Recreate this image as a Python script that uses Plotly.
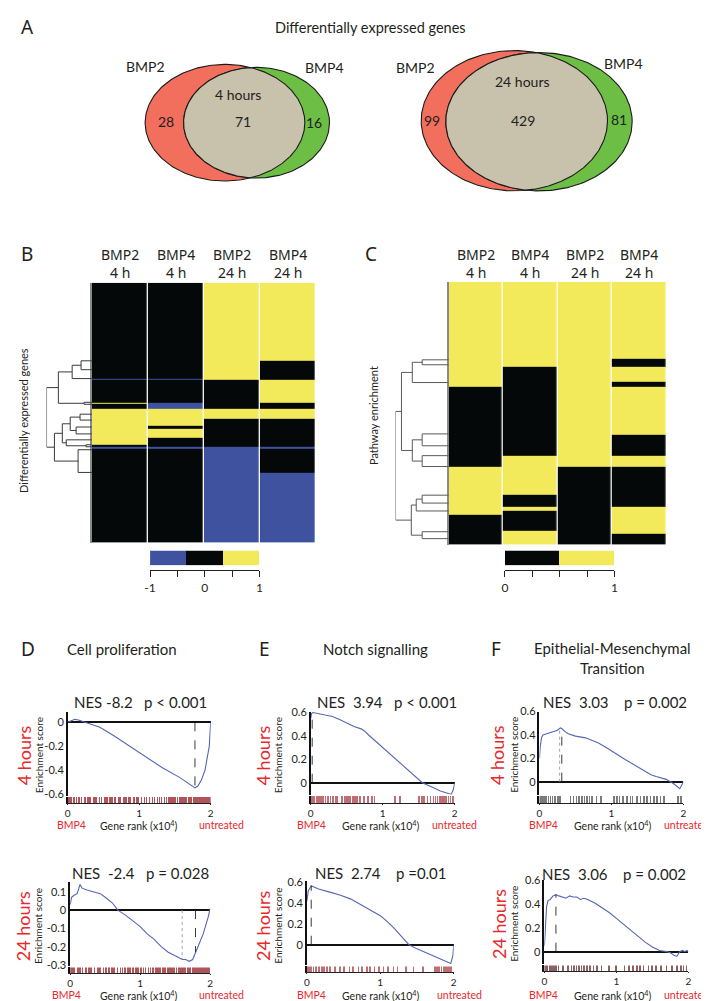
import numpy as np
import plotly.graph_objects as go

W, H = 709, 1001
def px(x): return x / W
def py(y): return 1 - y / H

# ---------------- DATA ----------------
venn_sets = ["BMP2", "BMP4"]
venn_4h = [28, 71, 16]          # BMP2 only, both, BMP4 only
venn_24h = [99, 429, 81]

heat_cols = ["BMP2<br>4 h", "BMP4<br>4 h", "BMP2<br>24 h", "BMP4<br>24 h"]

# Panel B: gene blocks (block sizes) and values per column (-1 down, 0 none, 1 up)
deg_block_sizes = [79, 18, 1, 23, 1, 6, 10, 7, 3, 9, 7, 2, 2, 24, 71]
deg_values = [[0, 0, 1, 1], [0, 0, 1, 0], [-1, -1, 1, 0], [0, 0, 0, 1], [1, -1, 0, 0],
              [0, -1, 0, 0], [1, 1, 1, 1], [1, 1, 0, 0], [1, 0, 0, 0], [1, 1, 0, 0],
              [1, 0, 0, 0], [0, 0, 0, 0], [-1, -1, -1, -1], [0, 0, -1, 0], [0, 0, -1, -1]]
deg_leaves = [79, 88, 97, 121, 123, 133, 139, 146, 153, 159, 164, 166, 169, 192]
deg_merges = [(0, 1, 11), (14, 2, 20), (3, 4, 8), (15, 16, 34), (5, 6, 12), (7, 8, 16),
              (18, 19, 22), (10, 11, 6), (9, 21, 26), (20, 22, 30), (12, 13, 14),
              (23, 24, 38), (17, 25, 46)]

# Panel C: pathway blocks
path_block_sizes = [78, 8, 15, 5, 49, 21, 11, 29, 12, 4, 4, 16, 3, 11]
path_values = [[1, 1, 1, 1], [1, 1, 1, 0], [1, 0, 1, 1], [1, 0, 1, 0], [0, 0, 1, 1],
               [0, 0, 1, 0], [0, 1, 1, 1], [1, 1, 0, 0], [1, 0, 0, 0], [1, 1, 0, 1],
               [1, 0, 0, 1], [0, 0, 0, 1], [0, 1, 0, 1], [0, 1, 0, 0]]
path_leaves = [79, 84, 102, 154, 166, 176, 187, 216, 224, 232, 253, 260]
path_merges = [(0, 1, 27), (12, 2, 37), (3, 4, 27), (5, 6, 27), (14, 15, 37), (13, 16, 48),
               (7, 8, 27), (18, 9, 33), (10, 11, 27), (19, 20, 38), (17, 21, 54)]

# GSEA running enrichment scores (rank in x10^4)
d4_rank = [0, 0.05, 0.1, 0.15, 0.22, 0.31, 0.45, 0.64, 0.87, 1.10, 1.33, 1.57, 1.71, 1.75, 1.78, 1.82, 1.87, 1.92, 1.95, 1.98, 1.99, 2.0]
d4_es = [0, 0.01, 0.025, 0.02, 0.005, -0.01, -0.04, -0.11, -0.2, -0.29, -0.38, -0.46, -0.52, -0.535, -0.545, -0.53, -0.48, -0.40, -0.30, -0.2, -0.1, 0]
d24_rank = [0, 0.02, 0.05, 0.1, 0.14, 0.17, 0.24, 0.33, 0.43, 0.5, 0.6, 0.68, 0.8, 0.9, 1.0, 1.1, 1.2, 1.3, 1.4, 1.5, 1.6, 1.65, 1.7, 1.75, 1.79, 1.85, 1.9, 1.97, 2.0]
d24_es = [0.03, 0.07, 0.08, 0.09, 0.14, 0.12, 0.11, 0.10, 0.09, 0.07, 0.04, 0.0, -0.03, -0.06, -0.09, -0.13, -0.16, -0.2, -0.23, -0.25, -0.27, -0.27, -0.28, -0.27, -0.23, -0.18, -0.13, -0.04, 0.01]
e4_rank = [0, 0.01, 0.03, 0.1, 0.2, 0.3, 0.4, 0.5, 0.6, 0.7, 0.75, 0.8, 1.0, 1.2, 1.4, 1.55, 1.7, 1.8, 1.9, 1.95, 1.98, 2.0]
e4_es = [0.55, 0.59, 0.6, 0.59, 0.58, 0.565, 0.54, 0.51, 0.48, 0.46, 0.44, 0.41, 0.30, 0.19, 0.08, 0.0, -0.04, -0.07, -0.09, -0.1, -0.06, 0]
e24_rank = [0, 0.02, 0.06, 0.15, 0.3, 0.45, 0.6, 0.75, 0.9, 1.0, 1.1, 1.2, 1.3, 1.39, 1.5, 1.6, 1.7, 1.8, 1.9, 1.96, 1.99, 2.0]
e24_es = [0.42, 0.52, 0.57, 0.54, 0.51, 0.48, 0.44, 0.38, 0.32, 0.28, 0.22, 0.15, 0.07, 0.0, -0.04, -0.07, -0.1, -0.13, -0.16, -0.18, -0.1, 0]
f4_rank = [0, 0.01, 0.03, 0.05, 0.1, 0.15, 0.2, 0.25, 0.29, 0.31, 0.35, 0.4, 0.5, 0.64, 0.82, 0.96, 1.19, 1.42, 1.55, 1.62, 1.76, 1.87, 1.95, 2.0]
f4_es = [0.2, 0.3, 0.38, 0.4, 0.41, 0.42, 0.43, 0.44, 0.46, 0.455, 0.43, 0.41, 0.39, 0.375, 0.33, 0.28, 0.19, 0.11, 0.06, 0.045, 0.02, -0.02, -0.06, 0.0]
f24_rank = [0, 0.01, 0.03, 0.05, 0.08, 0.12, 0.16, 0.2, 0.25, 0.3, 0.35, 0.4, 0.45, 0.5, 0.55, 0.6, 0.7, 0.8, 0.9, 1.0, 1.1, 1.2, 1.3, 1.4, 1.5, 1.6, 1.7, 1.75, 1.8, 1.84, 1.88, 1.92, 1.95, 1.98, 2.0]
f24_es = [0.05, 0.2, 0.38, 0.43, 0.44, 0.47, 0.48, 0.47, 0.46, 0.45, 0.47, 0.46, 0.46, 0.44, 0.45, 0.44, 0.41, 0.37, 0.33, 0.28, 0.23, 0.18, 0.13, 0.08, 0.04, 0.01, 0.0, -0.01, -0.03, -0.04, 0.0, 0.01, 0.0, 0.01, 0.0]

# leading-edge markers (rank)
d4_marks = [1.78]
d24_marks = [1.6, 1.79]
e4_marks = [0.02]
e24_marks = [0.06]
f4_marks = [0.28, 0.31]
f24_marks = [0.16]

# gene set hits (rank x10^4)
d4_hits = [0.01, 0.04, 0.08, 0.12, 0.15, 0.19, 0.24, 0.28, 0.31, 0.36, 0.39, 0.44, 0.47, 0.52, 0.55, 0.59, 0.62, 0.66, 0.71, 0.73, 0.78, 0.81, 0.85, 0.87, 0.92, 0.96, 0.98, 1.03, 1.07, 1.1, 1.14, 1.18, 1.21, 1.25, 1.28, 1.31, 1.35, 1.38, 1.41, 1.44, 1.47, 1.5, 1.53, 1.56, 1.58, 1.61, 1.64, 1.66, 1.69, 1.71, 1.73, 1.76, 1.78, 1.8, 1.82, 1.84, 1.86, 1.88, 1.9, 1.92, 1.93, 1.95, 1.97, 1.99]
d24_hits = [0.01, 0.03, 0.06, 0.11, 0.14, 0.18, 0.23, 0.27, 0.3, 0.35, 0.4, 0.43, 0.48, 0.51, 0.56, 0.6, 0.63, 0.68, 0.72, 0.75, 0.79, 0.83, 0.86, 0.9, 0.94, 0.97, 1.01, 1.05, 1.08, 1.12, 1.15, 1.19, 1.23, 1.26, 1.29, 1.33, 1.36, 1.4, 1.43, 1.46, 1.49, 1.52, 1.55, 1.57, 1.6, 1.63, 1.65, 1.68, 1.7, 1.72, 1.75, 1.77, 1.79, 1.81, 1.83, 1.85, 1.87, 1.89, 1.91, 1.93, 1.95, 1.97, 1.99]
e4_hits = [0.01, 0.03, 0.05, 0.08, 0.11, 0.14, 0.17, 0.2, 0.24, 0.27, 0.31, 0.34, 0.36, 0.43, 0.47, 0.5, 0.53, 0.55, 0.58, 0.61, 0.64, 0.68, 0.74, 0.79, 0.85, 0.88, 1.17, 1.24, 1.5, 1.54, 1.57, 1.62, 1.66, 1.7, 1.73, 1.76, 1.79, 1.82, 1.85, 1.88, 1.91, 1.94, 1.97]
e24_hits = [0.01, 0.02, 0.04, 0.06, 0.09, 0.12, 0.16, 0.2, 0.23, 0.27, 0.31, 0.38, 0.45, 0.5, 0.58, 0.63, 0.7, 0.75, 0.82, 0.86, 0.92, 0.98, 1.04, 1.1, 1.18, 1.23, 1.35, 1.45, 1.58, 1.74, 1.77, 1.8, 1.83, 1.86, 1.88, 1.91, 1.93, 1.96]
f4_hits = [0.01, 0.03, 0.05, 0.07, 0.1, 0.13, 0.16, 0.19, 0.22, 0.26, 0.29, 0.44, 0.48, 0.52, 0.56, 0.6, 0.63, 0.67, 0.7, 0.74, 0.8, 0.86, 1.04, 1.08, 1.12, 1.17, 1.22, 1.27, 1.3, 1.36, 1.41, 1.46, 1.5, 1.55, 1.6, 1.64, 1.69, 1.74, 1.93, 1.97]
f24_hits = [0.01, 0.03, 0.05, 0.08, 0.11, 0.14, 0.17, 0.2, 0.26, 0.33, 0.38, 0.42, 0.45, 0.49, 0.52, 0.56, 0.6, 0.64, 0.69, 0.74, 0.8, 0.9, 1.0, 1.12, 1.18, 1.24, 1.29, 1.33, 1.38, 1.45, 1.5, 1.56, 1.63, 1.7, 1.78, 1.85, 1.9, 1.94, 1.98]

# ---------------- STYLE ----------------
FONT = "Lato"
TXT = "#231f20"
RED_T = "#e8282b"
C_RED, C_GREEN, C_BEIGE = "#f26f5e", "#6cbe45", "#c8c1ac"
C_BLUE, C_BLACK, C_YEL = "#3e52a0", "#050808", "#f2ea5a"
CURVE = "#5565b5"

fig = go.Figure()
lay = {}
ann = []

def axes(n, xd, yd, xkw=None, ykw=None):
    xn = 'xaxis' if n == 1 else f'xaxis{n}'
    yn = 'yaxis' if n == 1 else f'yaxis{n}'
    xr = 'x' if n == 1 else f'x{n}'
    yr = 'y' if n == 1 else f'y{n}'
    base = dict(showgrid=False, zeroline=False, showticklabels=False, ticks='', showline=False, fixedrange=True)
    xa = dict(base, domain=[px(xd[0]), px(xd[1])], anchor=yr)
    ya = dict(base, domain=[py(yd[1]), py(yd[0])], anchor=xr)
    xa.update(xkw or {}); ya.update(ykw or {})
    lay[xn] = xa; lay[yn] = ya
    return xr, yr

def text(x, y, s, size=12, color=TXT, angle=0, xanchor='center', family=FONT, **kw):
    ann.append(dict(x=px(x), y=py(y), xref='paper', yref='paper', text=s, showarrow=False,
                    font=dict(size=size, color=color, family=family), textangle=angle,
                    xanchor=xanchor, yanchor='middle', **kw))

# ---------------- PANEL A (Venn) ----------------
vx, vy = axes(1, (0, 709), (0, 190), dict(range=[0, 709]), dict(range=[190, 0]))

def ellipse(cx, cy, rx, ry, n=240):
    t = np.linspace(0, 2 * np.pi, n)
    return cx + rx * np.cos(t), cy + ry * np.sin(t)

def ray(e, p, th):
    cx, cy, rx, ry = e
    dx, dy = np.cos(th), np.sin(th)
    ox, oy = p[0] - cx, p[1] - cy
    A = (dx / rx) ** 2 + (dy / ry) ** 2
    B = 2 * (ox * dx / rx ** 2 + oy * dy / ry ** 2)
    C = (ox / rx) ** 2 + (oy / ry) ** 2 - 1
    return (-B + np.sqrt(B * B - 4 * A * C)) / (2 * A)

def venn(e1, e2, counts, label, lab_pos):
    for e, col in ((e1, C_RED), (e2, C_GREEN)):
        xs, ys = ellipse(*e)
        fig.add_trace(go.Scatter(x=xs, y=ys, xaxis=vx, yaxis=vy, mode='lines', fill='toself',
                                 fillcolor=col, line=dict(color='#1a1a1a', width=1.1), hoverinfo='skip'))
    p = ((e2[0] - e2[2] + e1[0] + e1[2]) / 2, (e1[1] + e2[1]) / 2)
    th = np.linspace(0, 2 * np.pi, 400)
    r = np.minimum(ray(e1, p, th), ray(e2, p, th))
    fig.add_trace(go.Scatter(x=p[0] + r * np.cos(th), y=p[1] + r * np.sin(th), xaxis=vx, yaxis=vy,
                             mode='lines', fill='toself', fillcolor=C_BEIGE,
                             line=dict(color='#1a1a1a', width=1.1), hoverinfo='skip'))
    (l1, l2, lt, c1, c2, c3) = lab_pos
    text(*l1, venn_sets[0], 14); text(*l2, venn_sets[1], 14)
    text(*lt, label, 14)
    text(*c1, str(counts[0]), 14); text(*c2, str(counts[1]), 14); text(*c3, str(counts[2]), 14)

venn((214, 109, 81, 59), (246, 109, 74, 56), venn_4h, "4 hours",
     ((133, 52), (315, 53), (227, 80), (154, 108), (232, 108), (304, 109)))
venn((507.5, 107, 94.5, 71), (532.5, 108, 94.5, 70), venn_24h, "24 hours",
     ((407, 53), (618, 49), (516, 67), (424, 107), (516, 107), (614, 106)))

text(5, 12, "A", 19, xanchor='left', family="Noto Sans")
text(362, 13, "Differentially expressed genes", 14.5)

# ---------------- PANELS B, C (heatmaps) ----------------
def dendro(xr, yr, leaves, merges, color):
    pos = list(leaves); hts = [0] * len(leaves)
    xs, ys = [], []
    for a, b, h in merges:
        xs += [hts[a], h, h, hts[b], None]
        ys += [pos[a], pos[a], pos[b], pos[b], None]
        pos.append((pos[a] + pos[b]) / 2); hts.append(h)
    fig.add_trace(go.Scatter(x=xs, y=ys, xaxis=xr, yaxis=yr, mode='lines',
                             line=dict(color=color, width=1), hoverinfo='skip'))

def heat(n, xd, yd, sizes, values, cs, zmin, zmax):
    edges = np.concatenate([[0], np.cumsum(sizes)])
    xr, yr = axes(n, xd, yd, dict(range=[0, 4]),
                  dict(range=[edges[-1], 0], showline=True, linecolor='#8a8a8a', linewidth=1.5))
    fig.add_trace(go.Heatmap(z=values, x=[0, 1, 2, 3, 4], y=edges, xaxis=xr, yaxis=yr, colorscale=cs,
                             zmin=zmin, zmax=zmax, showscale=False, xgap=1.3, hoverinfo='skip'))
    for i, c in enumerate(heat_cols):
        ann.append(dict(x=i + 0.5, y=py(252), xref=xr, yref='paper', text=c, showarrow=False,
                        font=dict(size=14, color=TXT, family="Noto Sans"), yanchor='middle'))
    return edges[-1]

cs3 = [[0, C_BLUE], [1 / 3, C_BLUE], [1 / 3, C_BLACK], [2 / 3, C_BLACK], [2 / 3, C_YEL], [1, C_YEL]]
cs2 = [[0, C_BLACK], [0.5, C_BLACK], [0.5, C_YEL], [1, C_YEL]]

totB = heat(2, (79, 306), (271, 534), deg_block_sizes, deg_values, cs3, -1, 1)
dx3, dy3 = axes(3, (33, 79), (271, 534), dict(range=[46, 0]), dict(range=[totB, 0]))
dendro(dx3, dy3, deg_leaves, deg_merges, '#3a3a3a')

totC = heat(4, (441, 662), (270, 536), path_block_sizes, path_values, cs2, 0, 1)
dx5, dy5 = axes(5, (387, 441), (270, 536), dict(range=[54, 0]), dict(range=[totC, 0]))
dendro(dx5, dy5, path_leaves, path_merges, '#5a5a5a')

text(5, 242, "B", 19, xanchor='left', family="Noto Sans")
text(354, 242, "C", 19, xanchor='left', family="Noto Sans")
text(9, 410, "Differentially expressed genes", 11, angle=-90)
text(364, 405, "Pathway enrichment", 11, angle=-90)

# colour keys
def key(n, xd, edges, zrow, cs, zmin, zmax, tv, mdt):
    xr, yr = axes(n, xd, (542, 557),
                  dict(range=[edges[0], edges[-1]], anchor='free', position=py(562), showline=True,
                       linecolor='#222', linewidth=1, ticks='outside', ticklen=6, tickcolor='#222',
                       tickvals=tv, ticktext=[('%g' % v) for v in tv], showticklabels=True,
                       minor=dict(ticks='outside', ticklen=6, tickcolor='#222', dtick=mdt, tick0=edges[0]),
                       tickfont=dict(size=12, color=TXT, family=FONT)),
                  dict(range=[0, 1]))
    fig.add_trace(go.Heatmap(z=[zrow], x=edges, y=[0, 1], xaxis=xr, yaxis=yr, colorscale=cs,
                             zmin=zmin, zmax=zmax, showscale=False, hoverinfo='skip'))

key(6, (138, 249), [-1, -1 / 3, 1 / 3, 1], [-1, 0, 1], cs3, -1, 1, [-1, 0, 1], 0.5)
key(7, (498, 609), [0, 0.5, 1], [0, 1], cs2, 0, 1, [0, 1], 0.25)

# ---------------- PANELS D, E, F (GSEA) ----------------
def gsea(n, xd, yd, hd, yr_, tv, rank, es, marks, hits, hitcol, nes, nes_pos, hours,
         hours_x, es_x, labels_y, lab_x, right_edge=None):
    ex, ey = axes(n, xd, yd, dict(range=[0, 2]),
                  dict(range=yr_, showline=True, linecolor='#111', linewidth=1.5,
                       zeroline=True, zerolinecolor='#111', zerolinewidth=1.6,
                       tickvals=tv, ticktext=[('%g' % v) for v in tv], showticklabels=True,
                       ticks='', tickfont=dict(size=11, color=TXT, family=FONT)))
    fig.add_trace(go.Scatter(x=rank, y=es, xaxis=ex, yaxis=ey, mode='lines',
                             line=dict(color=CURVE, width=1.1), hoverinfo='skip'))
    for k, m in enumerate(marks):
        dotted = len(marks) > 1 and k == 0
        fig.add_trace(go.Scatter(x=[m, m], y=[0, float(np.interp(m, rank, es))], xaxis=ex, yaxis=ey,
                                 mode='lines', hoverinfo='skip',
                                 line=dict(color='#9a9a9a' if dotted else '#222', width=0.9,
                                           dash='dot' if dotted else 'dash')))
    hx, hy = axes(n + 1, xd, hd,
                  dict(range=[0, 2], showline=True, linecolor='#222', linewidth=1, ticks='outside',
                       ticklen=1, tickcolor='#222', tickvals=[0, 1, 2], showticklabels=True,
                       tickfont=dict(size=10, color=TXT, family=FONT)),
                  dict(range=[0, 1], showline=True, linecolor='#111', linewidth=1.5))
    fig.add_trace(go.Bar(x=hits, y=[1] * len(hits), width=0.009, xaxis=hx, yaxis=hy,
                         marker=dict(color=hitcol, line=dict(width=0)), opacity=0.8, hoverinfo='skip'))
    text(nes_pos[0], nes_pos[1], nes, 15)
    text(hours_x, (yd[0] + yd[1]) / 2 + 2, hours, 18, RED_T, angle=-90)
    text(es_x, (yd[0] + yd[1]) / 2 + 2, "Enrichment score", 10, angle=-90)
    text(lab_x[0], labels_y, "BMP4", 10.5, RED_T)
    text(lab_x[1], labels_y, "Gene rank (x10<sup>4</sup>)", 10.5)
    if right_edge:
        text(right_edge, labels_y, "untreated", 10.5, RED_T, xanchor='right')
    else:
        text(lab_x[2], labels_y, "untreated", 10.5, RED_T)

NB = "\u00a0"
gsea(8, (54.5, 199.5), (705, 790), (791, 798), [-0.609, 0.09], [0, -0.2, -0.4, -0.6],
     d4_rank, d4_es, d4_marks, d4_hits, "#9b2a30",
     f"NES{NB}-8.2{NB}{NB}{NB}p{NB}<{NB}0.001", (128, 695), "4 hours", 10, 25, 820, (58, 127, 210))
gsea(10, (57, 199), (878, 963), (964, 970), [-0.308, 0.151], [0.1, 0, -0.1, -0.2, -0.3],
     d24_rank, d24_es, d24_marks, d24_hits, "#9b2a30",
     f"NES{NB}{NB}-2.4{NB}{NB}{NB}p{NB}={NB}0.028", (128, 868), "24 hours", 10, 25, 992, (53, 127, 210))
gsea(12, (301, 447), (705, 789), (790, 798), [-0.101, 0.608], [0, 0.2, 0.4, 0.6],
     e4_rank, e4_es, e4_marks, e4_hits, "#b04a50",
     f"NES{NB}{NB}3.94{NB}{NB}{NB}p{NB}<{NB}0.001", (378, 695), "4 hours", 253, 268, 820, (302, 372, 447))
gsea(14, (297, 446), (877, 962), (963, 969), [-0.2, 0.61], [0, 0.2, 0.4, 0.6],
     e24_rank, e24_es, e24_marks, e24_hits, "#b04a50",
     f"NES{NB}{NB}2.74{NB}{NB}{NB}{NB}p{NB}=0.01", (372, 868), "24 hours", 253, 268, 992, (302, 372, 452))
gsea(16, (533, 679), (705, 789), (790, 798), [-0.11, 0.6], [0, 0.2, 0.4, 0.6],
     f4_rank, f4_es, f4_marks, f4_hits, "#5a5a5a",
     f"NES{NB}{NB}3.03{NB}{NB}{NB}{NB}p{NB}={NB}0.002", (610, 695), "4 hours", 490, 507, 820, (537, 608, 681),
     right_edge=707)
gsea(18, (538, 684), (875, 961), (962, 968), [-0.108, 0.608], [0, 0.2, 0.4, 0.6],
     f24_rank, f24_es, f24_marks, f24_hits, "#6e3a3c",
     f"NES{NB}{NB}3.06{NB}{NB}{NB}{NB}p{NB}={NB}0.002", (609, 869), "24 hours", 492, 507, 992, (537, 608, 681),
     right_edge=707)

text(5, 642, "D", 19, xanchor='left', family="Noto Sans")
text(246, 642, "E", 19, xanchor='left', family="Noto Sans")
text(482, 642, "F", 19, xanchor='left', family="Noto Sans")
text(110, 642, "Cell proliferation", 15)
text(367, 642, "Notch signalling", 15)
text(607, 651, "Epithelial-Mesenchymal<br>Transition", 15)

fig.update_layout(width=W, height=H, margin=dict(l=0, r=0, t=0, b=0), autosize=False,
                  paper_bgcolor='white', plot_bgcolor='rgba(0,0,0,0)', showlegend=False,
                  font=dict(family=FONT, color=TXT), annotations=ann, bargap=0, **lay)
fig.write_html("out.html")
